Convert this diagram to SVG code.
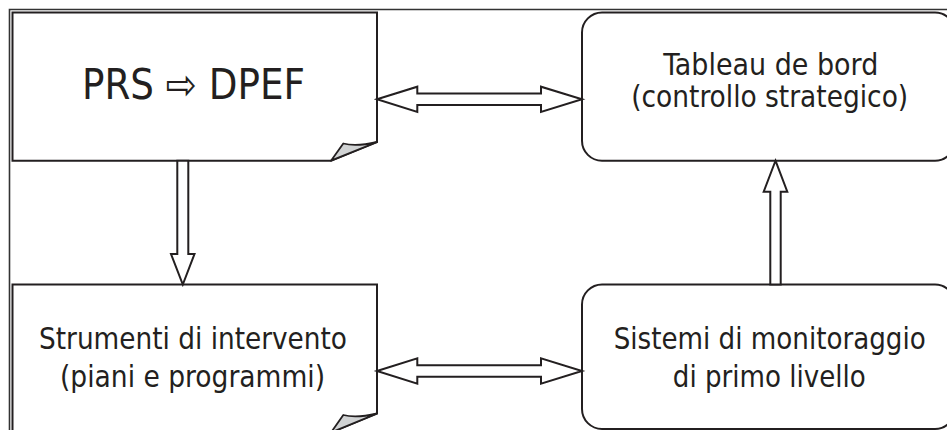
<svg xmlns="http://www.w3.org/2000/svg" width="947" height="430" viewBox="0 0 947 430">
<style>
.box{fill:#fff;stroke:#231f20;stroke-width:2;stroke-linejoin:miter}
.flap{fill:#d1d3d4;stroke:#231f20;stroke-width:1.8;stroke-linejoin:round}
.arr{fill:#fff;stroke:#231f20;stroke-width:2;stroke-linejoin:miter}
.frame{fill:none;stroke:#333;stroke-width:1.6}
text{font-family:"DejaVu Sans Condensed","DejaVu Sans",sans-serif;fill:#231f20;text-anchor:middle}
.big{font-size:42px}
.t{font-size:30px}
</style>
<path class="frame" d="M9.5,430 V9.5 H947"/>
<g id="node-prs">
<path class="box" d="M12.5,12.5 H377 V142 L331,160.7 H12.5 Z"/>
<path class="flap" d="M331,160.7 L343.3,143.5 Q356,147 377,142 Z"/>
<text class="big" x="193.5" y="99" textLength="223" lengthAdjust="spacingAndGlyphs">PRS ⇨ DPEF</text>
</g>
<g id="node-tableau">
<rect class="box" x="582" y="12.5" width="373" height="148.2" rx="20" ry="20"/>
<text class="t" x="770.8" y="75.3" textLength="215" lengthAdjust="spacingAndGlyphs">Tableau de bord</text>
<text class="t" x="769.7" y="107.3" textLength="277" lengthAdjust="spacingAndGlyphs">(controllo strategico)</text>
</g>
<g id="node-strumenti">
<path class="box" d="M12.5,284.5 H377 V413.5 L331,432.5 H12.5 Z"/>
<path class="flap" d="M331,432.5 L343.3,415 Q356,418.5 377,413.5 Z"/>
<text class="t" x="193" y="349" textLength="308" lengthAdjust="spacingAndGlyphs">Strumenti di intervento</text>
<text class="t" x="192.5" y="386.7" textLength="265" lengthAdjust="spacingAndGlyphs">(piani e programmi)</text>
</g>
<g id="node-sistemi">
<rect class="box" x="582" y="284.5" width="373" height="144.5" rx="20" ry="20"/>
<text class="t" x="769.7" y="349" textLength="312" lengthAdjust="spacingAndGlyphs">Sistemi di monitoraggio</text>
<text class="t" x="769.3" y="386.7" textLength="193" lengthAdjust="spacingAndGlyphs">di primo livello</text>
</g>
<g id="connectors">
<polygon class="arr" points="377,99.3 417.3,86.7 417.3,93.5 541,93.5 541,86.7 582,99.3 541,112 541,105.1 417.3,105.1 417.3,112"/>
<polygon class="arr" points="377,371 417.3,358.4 417.3,365.2 541,365.2 541,358.4 582,371 541,383.6 541,376.8 417.3,376.8 417.3,383.6"/>
<polygon class="arr" points="177.3,160.7 177.3,254 171,254 182.8,284.5 194.5,254 188.3,254 188.3,160.7"/>
<polygon class="arr" points="775.5,160.7 787.3,191.7 780.7,191.7 780.7,284.5 770.3,284.5 770.3,191.7 763.7,191.7"/>
</g>
</svg>
